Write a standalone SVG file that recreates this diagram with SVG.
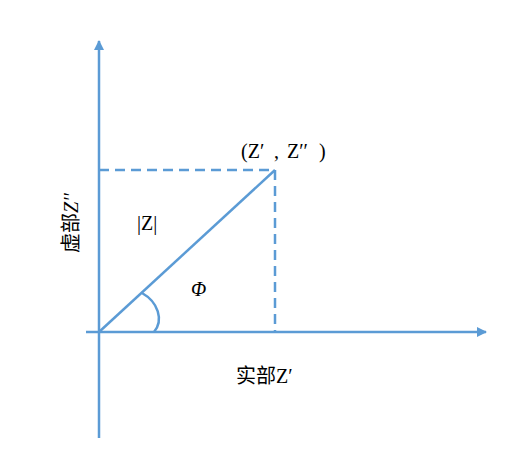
<svg xmlns="http://www.w3.org/2000/svg" width="517" height="453" viewBox="0 0 517 453">
<defs>
<style>
.ln{stroke:#5B9BD5;stroke-width:2.5;fill:none}
.ds{stroke:#5B9BD5;stroke-width:2.5;fill:none;stroke-dasharray:10,6}
.t{font-family:'Liberation Serif','DejaVu Serif','Noto Sans CJK SC',serif;font-size:20px;fill:#000}
</style>
<marker id="ah" viewBox="0 0 10 10" refX="9" refY="5" markerWidth="4" markerHeight="4" orient="auto" markerUnits="strokeWidth">
<path d="M0,0 L10,5 L0,10 z" fill="#5B9BD5"/>
</marker>
</defs>
<rect width="517" height="453" fill="#fff"/>
<g id="connectors">
<line class="ln" x1="99" y1="438" x2="99" y2="41" marker-end="url(#ah)"/>
<line class="ln" x1="86" y1="332" x2="486" y2="332" marker-end="url(#ah)"/>
<line class="ds" x1="99" y1="170" x2="275" y2="170"/>
<line class="ds" x1="275" y1="170" x2="275" y2="332"/>
<line class="ln" x1="99" y1="332" x2="275" y2="170"/>
<path class="ln" d="M142,293 C158,302 164,320 154,332"/>
</g>
<g id="point-label"><text class="t" y="158"><tspan x="241">(Z′</tspan><tspan x="274">,</tspan><tspan x="287">Z′′</tspan><tspan x="319">)</tspan></text></g>
<g id="modulus-label"><text class="t" x="137" y="230">|Z|</text></g>
<g id="phase-label"><text class="t" x="191" y="296" font-style="italic">Φ</text></g>
<g id="x-label"><text class="t" x="236" y="383">实部Z′</text></g>
<g id="y-label"><text class="t" transform="translate(78,223) rotate(-90)" text-anchor="middle">虚部<tspan font-style="italic">Z′′</tspan></text></g>
</svg>
